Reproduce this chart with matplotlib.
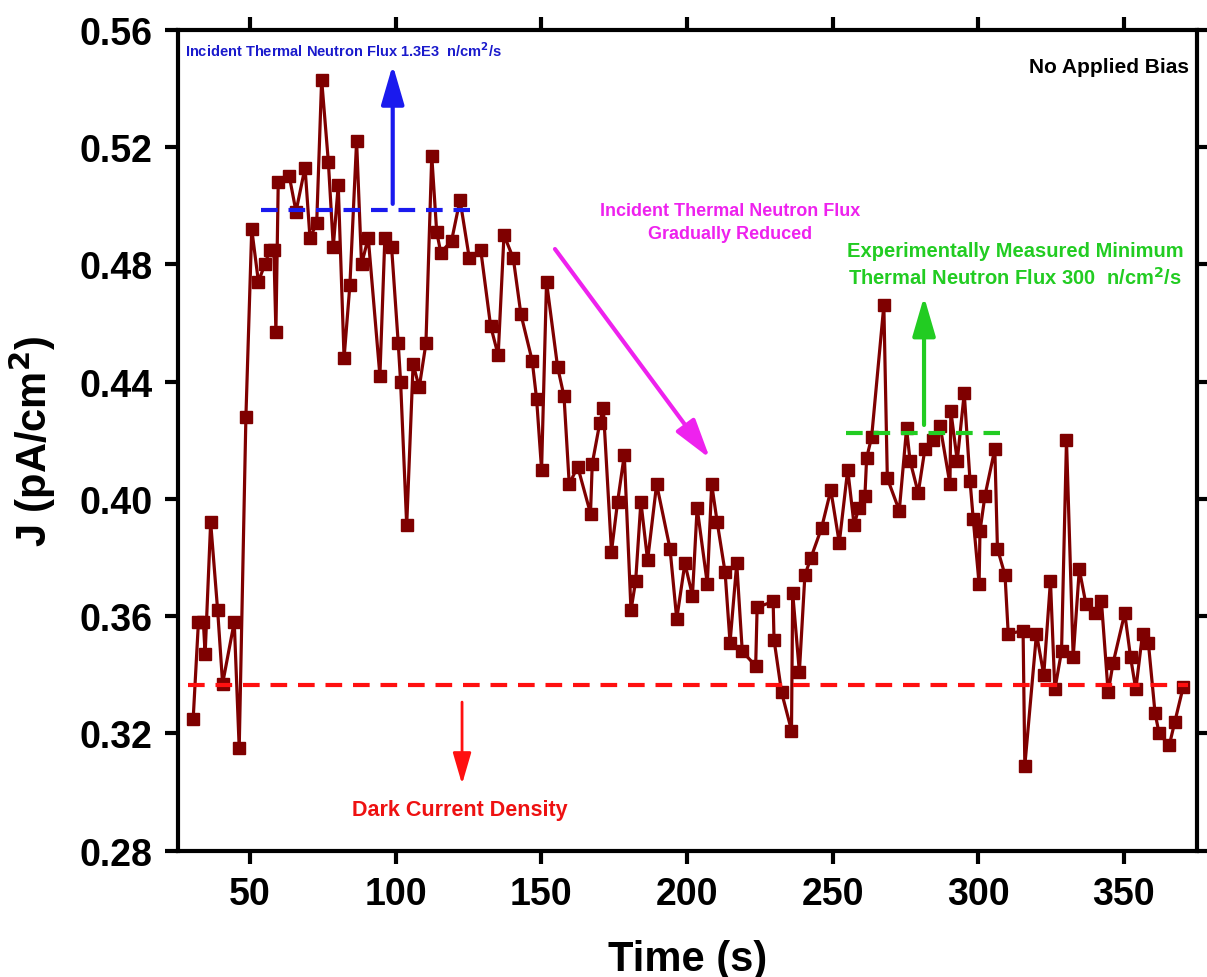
import matplotlib
matplotlib.use("Agg")
import matplotlib.pyplot as plt

# time (s) and current density (pA/cm2)
time_s = [30.5, 32.3, 34.0, 34.6, 36.5, 38.9, 40.6, 44.6, 46.3, 48.6,
          50.6, 52.9, 55.1, 56.9, 58.2, 58.9, 59.7, 63.5, 65.8, 68.9,
          70.6, 72.9, 74.6, 76.9, 78.6, 80.3, 82.3, 84.3, 86.6, 88.3,
          90.6, 94.6, 96.3, 98.6, 100.9, 101.7, 103.8, 106.0, 108.1, 110.4,
          112.4, 114.1, 115.5, 119.2, 122.1, 125.3, 129.2, 132.6, 135.2, 137.2,
          140.4, 143.0, 146.9, 148.4, 150.1, 151.8, 155.6, 157.8, 159.6, 162.5,
          166.9, 167.5, 170.1, 171.3, 174.1, 176.2, 178.5, 180.8, 182.4, 184.2,
          186.5, 189.6, 194.2, 196.5, 199.3, 201.9, 203.5, 207.0, 208.5, 210.4,
          213.1, 214.8, 217.1, 219.0, 223.6, 224.1, 229.6, 229.9, 232.5, 235.9,
          236.3, 238.6, 240.5, 242.6, 246.2, 249.4, 252.3, 255.2, 257.4, 259.0,
          261.1, 261.7, 263.4, 267.6, 268.8, 272.9, 275.4, 276.6, 279.4, 281.7,
          284.6, 286.9, 290.3, 290.6, 292.8, 295.2, 297.2, 298.3, 300.3, 300.6,
          302.3, 305.7, 306.6, 309.2, 310.3, 315.4, 316.0, 320.0, 322.5, 324.8,
          326.3, 328.6, 330.3, 332.6, 334.7, 337.0, 340.0, 342.3, 344.6, 346.3,
          350.3, 352.3, 354.1, 356.4, 358.4, 360.7, 362.1, 365.6, 367.5, 370.4]
j_pa = [0.325, 0.358, 0.358, 0.347, 0.392, 0.362, 0.337, 0.358, 0.315, 0.428,
        0.492, 0.474, 0.480, 0.485, 0.485, 0.457, 0.508, 0.510, 0.498, 0.513,
        0.489, 0.494, 0.543, 0.515, 0.486, 0.507, 0.448, 0.473, 0.522, 0.480,
        0.489, 0.442, 0.489, 0.486, 0.453, 0.440, 0.391, 0.446, 0.438, 0.453,
        0.517, 0.491, 0.484, 0.488, 0.502, 0.482, 0.485, 0.459, 0.449, 0.490,
        0.482, 0.463, 0.447, 0.434, 0.410, 0.474, 0.445, 0.435, 0.405, 0.411,
        0.395, 0.412, 0.426, 0.431, 0.382, 0.399, 0.415, 0.362, 0.372, 0.399,
        0.379, 0.405, 0.383, 0.359, 0.378, 0.367, 0.397, 0.371, 0.405, 0.392,
        0.375, 0.351, 0.378, 0.348, 0.343, 0.363, 0.365, 0.352, 0.334, 0.321,
        0.368, 0.341, 0.374, 0.380, 0.390, 0.403, 0.385, 0.410, 0.391, 0.397,
        0.401, 0.414, 0.421, 0.466, 0.407, 0.396, 0.424, 0.413, 0.402, 0.417,
        0.420, 0.425, 0.405, 0.430, 0.413, 0.436, 0.406, 0.393, 0.371, 0.389,
        0.401, 0.417, 0.383, 0.374, 0.354, 0.355, 0.309, 0.354, 0.340, 0.372,
        0.335, 0.348, 0.420, 0.346, 0.376, 0.364, 0.361, 0.365, 0.334, 0.344,
        0.361, 0.346, 0.335, 0.354, 0.351, 0.327, 0.320, 0.316, 0.324, 0.336]

dark_level = 0.3365
high_flux_level = 0.4985
min_flux_level = 0.4223

plt.rcParams['font.family'] = ['Liberation Sans', 'DejaVu Sans']
plt.rcParams['font.weight'] = 'bold'

fig = plt.figure(figsize=(12.07, 9.78), dpi=100)
ax = fig.add_axes([0.1475, 0.1291, 0.8442, 0.8395])

ax.plot(time_s, j_pa, color='#7f0000', lw=2.3, marker='s', ms=8,
        mec='#7f0000', mfc='#7f0000', zorder=3)

# dashed reference levels
ax.plot([28.8, 372], [dark_level, dark_level], color='#ff1010', lw=3,
        dashes=(4, 2.6), zorder=4)
ax.plot([53.7, 125.5], [high_flux_level, high_flux_level], color='#1a1aee', lw=3,
        dashes=(4, 2.6), zorder=4)
ax.plot([254.5, 307.5], [min_flux_level, min_flux_level], color='#22cc22', lw=3,
        dashes=(4, 2.6), zorder=4)

# arrows
ax.annotate('', xy=(99, 0.548), xytext=(99, 0.5006),
            arrowprops=dict(arrowstyle='-|>,head_length=1.2,head_width=0.35',
                            lw=3, color='#1a1aee', shrinkA=0, shrinkB=0,
                            mutation_scale=20))
ax.annotate('', xy=(281.4, 0.469), xytext=(281.4, 0.4252),
            arrowprops=dict(arrowstyle='-|>,head_length=1.2,head_width=0.35',
                            lw=3, color='#22cc22', shrinkA=0, shrinkB=0,
                            mutation_scale=20))
ax.annotate('', xy=(122.8, 0.3027), xytext=(122.8, 0.3307),
            arrowprops=dict(arrowstyle='-|>,head_length=1.2,head_width=0.35',
                            lw=2, color='#ff1010', shrinkA=0, shrinkB=0,
                            mutation_scale=16))
ax.annotate('', xy=(207.9, 0.4138), xytext=(154.7, 0.4852),
            arrowprops=dict(arrowstyle='-|>,head_length=1.2,head_width=0.35',
                            lw=3, color='#ee22ee', shrinkA=0, shrinkB=0,
                            mutation_scale=20))

# annotation texts
ax.text(27.8, 0.5532, 'Incident Thermal Neutron Flux 1.3E3  n/cm$^{\\mathbf{2}}$/s',
        color='#1a1acc', fontsize=10.5, weight='bold', ha='left', va='center')
ax.text(214.8, 0.4944, 'Incident Thermal Neutron Flux\nGradually Reduced',
        color='#ee22ee', fontsize=13, weight='bold',
        ha='center', va='center', linespacing=1.5)
ax.text(312.6, 0.4800, 'Experimentally Measured Minimum\nThermal Neutron Flux 300  n/cm$^{\\mathbf{2}}$/s',
        color='#22cc22', fontsize=14.5, weight='bold',
        ha='center', va='center', linespacing=1.35)
ax.text(122.1, 0.2942, 'Dark Current Density', color='#ee1111', fontsize=15.5,
        weight='bold', ha='center', va='center')
ax.text(372.5, 0.5475, 'No Applied Bias', color='black', fontsize=15,
        weight='bold', ha='right', va='center')

ax.set_xlim(25.3, 375.1)
ax.set_ylim(0.28, 0.56)
ax.set_xticks([50, 100, 150, 200, 250, 300, 350])
ax.set_yticks([0.28, 0.32, 0.36, 0.40, 0.44, 0.48, 0.52, 0.56])
ax.set_yticklabels(['%.2f' % v for v in ax.get_yticks()])

for s in ax.spines.values():
    s.set_linewidth(3)
ax.tick_params(which='major', direction='out', length=9.5, width=3,
               labelsize=27, pad=9, top=True, right=True)

ax.set_xlabel('Time (s)', fontsize=30, weight='bold')
ax.set_ylabel('J (pA/cm$^{\\mathbf{2}}$)', fontsize=30, weight='bold')
ax.xaxis.set_label_coords(0.5, -0.107)
ax.yaxis.set_label_coords(-0.118, 0.5)

fig.savefig('out.png', dpi=100)
